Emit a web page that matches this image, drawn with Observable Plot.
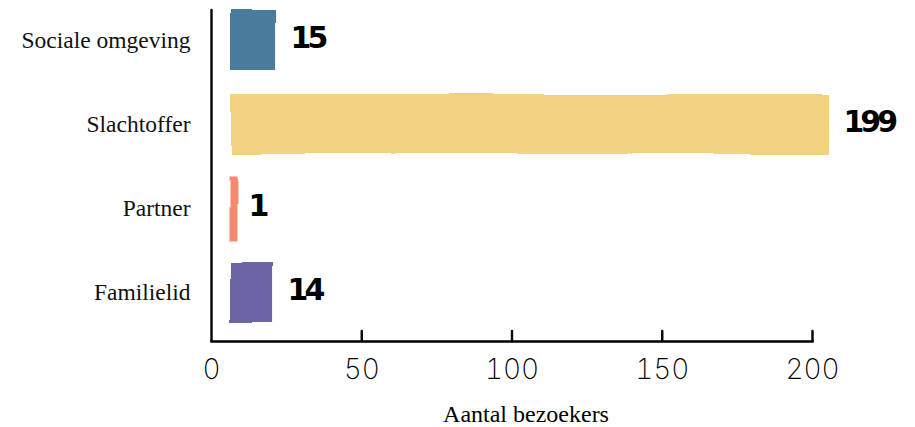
<!DOCTYPE html>
<html>
<head>
<meta charset="utf-8">
<script src="https://cdn.jsdelivr.net/npm/d3@7"></script>
<script src="https://cdn.jsdelivr.net/npm/@observablehq/plot@0.6"></script>
<style>
  html, body { margin: 0; padding: 0; background: #fff; }
  #chart svg { display: block; }
</style>
</head>
<body>
<div id="chart"></div>
<script>
const categories = ["Sociale omgeving", "Slachtoffer", "Partner", "Familielid"];
const values = [15, 199, 1, 14];
const colors = ["#4a7c9c", "#f0d282", "#f4896e", "#6a66a6"];
const xTicks = [0, 50, 100, 150, 200];

const data = categories.map((c, i) => ({category: c, value: values[i], color: colors[i]}));

const chart = Plot.plot({
  width: 915,
  height: 427,
  marginTop: 10,
  marginLeft: 211,
  marginRight: 103,
  marginBottom: 86,
  style: {background: "#fff", overflow: "visible"},
  x: {domain: [0, 200], ticks: xTicks, label: "Aantal bezoekers"},
  y: {domain: categories, range: [0, 331.5], paddingInner: 0.28, paddingOuter: 0.1, label: null},
  marks: [
    Plot.barX(data, {
      x: "value", y: "category", fill: "color", dx: 20,
      stroke: "color", strokeWidth: d => d.value < 3 ? 5 : 0
    }),
    Plot.text(data, {
      x: "value", y: "category", text: d => String(d.value),
      textAnchor: "start", dx: 34, dy: -2, fontSize: 30, fontWeight: "bold",
      fontFamily: "'DejaVu Sans', sans-serif",
      fill: "#000"
    }),
    Plot.ruleX([0], {stroke: "#000", strokeWidth: 2.4}),
    Plot.frame({anchor: "bottom", stroke: "#000", strokeWidth: 2.4}),
    Plot.tickX(xTicks.filter(t => t > 0), {x: d => d, insetTop: 321, stroke: "#000", strokeWidth: 2.4}),
    Plot.axisX({
      ticks: xTicks, tickSize: 0, tickPadding: 18,
      fontSize: 28, fontFamily: "Inter, sans-serif", fontWeight: 200,
      label: "Aantal bezoekers", labelAnchor: "center", labelArrow: "none",
      labelOffset: 80
    }),
    Plot.axisY({
      tickSize: 0, tickPadding: 21, fontSize: 23.5,
      fontFamily: "'Liberation Serif', 'DejaVu Serif', serif", label: null, fill: "#111"
    })
  ]
});

document.getElementById("chart").appendChild(chart);

// value labels: narrow heavy digits
d3.select(chart).selectAll("[aria-label='text'] text")
  .style("letter-spacing", "-4px")
  .style("font-weight", "900");

// style the x-axis label as a serif title
d3.select(chart).selectAll("[aria-label='x-axis label'] text")
  .style("font-family", "'Liberation Serif', 'DejaVu Serif', serif")
  .style("font-size", "24px")
  .style("font-weight", "normal")
  .attr("dx", 14);

// light hand-drawn wobble on bars
const defs = d3.select(chart).insert("defs", ":first-child");
const f = defs.append("filter").attr("id", "rough")
  .attr("filterUnits", "userSpaceOnUse")
  .attr("x", 0).attr("y", 0).attr("width", 915).attr("height", 427);
f.append("feTurbulence").attr("type", "fractalNoise").attr("baseFrequency", "0.008").attr("numOctaves", 1).attr("seed", 5).attr("result", "n");
f.append("feDisplacementMap").attr("in", "SourceGraphic").attr("in2", "n").attr("scale", 6)
  .attr("xChannelSelector", "R").attr("yChannelSelector", "G");
d3.select(chart).selectAll("[aria-label='bar']").attr("filter", "url(#rough)");
d3.select(chart).selectAll("[aria-label='rule'] line, [aria-label='frame'] line, [aria-label='tick'] line")
  .attr("stroke-linecap", "round");
</script>
</body>
</html>
